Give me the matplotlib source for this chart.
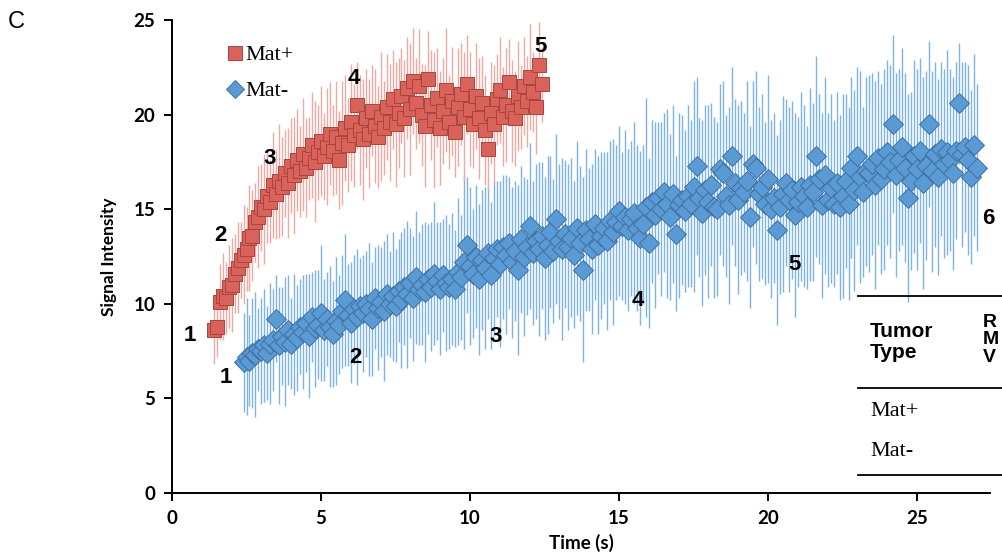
import matplotlib
matplotlib.use("Agg")
import matplotlib.pyplot as plt
from matplotlib.lines import Line2D

# === data ===
# Mat+ (red squares)
mat_plus_t = [
    1.4, 1.5, 1.6, 1.7, 1.8, 1.9, 2.0, 2.1, 2.2, 2.3,
    2.4, 2.5, 2.6, 2.7, 2.8, 2.9, 3.0, 3.1, 3.2, 3.3,
    3.4, 3.5, 3.6, 3.7, 3.8, 3.9, 4.0, 4.1, 4.2, 4.3,
    4.4, 4.5, 4.6, 4.7, 4.8, 4.9, 5.0, 5.1, 5.2, 5.3,
    5.4, 5.5, 5.6, 5.7, 5.8, 5.9, 6.0, 6.1, 6.2, 6.3,
    6.4, 6.5, 6.6, 6.7, 6.8, 6.9, 7.0, 7.1, 7.2, 7.3,
    7.4, 7.5, 7.6, 7.7, 7.8, 7.9, 8.0, 8.1, 8.2, 8.3,
    8.4, 8.5, 8.6, 8.7, 8.8, 8.9, 9.0, 9.1, 9.2, 9.3,
    9.4, 9.5, 9.6, 9.7, 9.8, 9.9, 10.0, 10.1, 10.2, 10.3,
    10.4, 10.5, 10.6, 10.7, 10.8, 10.9, 11.0, 11.1, 11.2, 11.3,
    11.4, 11.5, 11.6, 11.7, 11.8, 11.9, 12.0, 12.1, 12.2, 12.3, 12.4,
]
mat_plus_v = [
    8.6, 8.8, 10.1, 10.4, 10.3, 10.9, 11.0, 11.6, 11.9, 12.3,
    12.6, 12.9, 13.5, 13.6, 14.3, 14.6, 15.1, 15.0, 15.7, 15.4,
    16.3, 15.8, 16.5, 16.2, 16.9, 16.4, 17.3, 16.8, 17.6, 17.0,
    17.9, 17.2, 17.7, 18.4, 17.5, 18.0, 18.6, 17.8, 18.3, 19.0,
    18.1, 18.8, 17.6, 18.5, 19.3, 18.4, 19.6, 18.9, 20.5, 19.2,
    18.7, 19.8, 19.0, 20.2, 19.4, 18.8, 19.9, 19.3, 20.4, 19.6,
    20.8, 19.5, 20.1, 21.0, 19.8, 21.4, 20.3, 21.8, 20.6, 21.5,
    20.0, 19.4, 21.9, 20.5, 19.7, 20.9, 19.3, 20.2, 21.3, 19.6,
    20.7, 19.1, 20.4, 21.1, 19.9, 21.6, 20.3, 19.5, 21.0, 19.8,
    20.6, 19.2, 18.2, 20.1, 19.5, 20.8, 21.3, 19.9, 20.5, 21.7,
    20.2, 19.8, 21.0, 20.4, 21.5, 20.7, 22.0, 21.2, 20.4, 22.6, 21.6,
]
mat_plus_err = [
    1.8, 1.6, 2.0, 2.3, 1.9, 2.2, 2.5, 2.1, 2.4, 2.0,
    2.6, 2.2, 2.8, 2.4, 2.1, 2.7, 2.3, 2.9, 2.5, 2.2,
    2.8, 2.4, 3.0, 2.6, 2.3, 2.9, 2.5, 3.1, 2.7, 2.4,
    3.0, 2.6, 2.2, 2.8, 3.2, 2.5, 2.9, 2.3, 3.1, 2.7,
    2.4, 3.0, 2.6, 3.3, 2.8, 2.5, 3.1, 2.7, 2.3, 2.9,
    3.2, 2.6, 2.9, 2.4, 3.0, 2.7, 3.4, 2.5, 2.8, 3.1,
    2.6, 3.3, 2.9, 2.5, 3.1, 2.7, 3.5, 2.8, 2.4, 3.0,
    2.7, 3.2, 2.5, 2.9, 3.6, 2.6, 3.0, 2.8, 3.3, 2.5,
    2.9, 2.4, 3.1, 2.7, 3.4, 2.6, 3.0, 2.3, 2.8, 3.2,
    2.5, 2.9, 2.2, 2.7, 3.1, 2.4, 2.8, 2.6, 3.0, 2.3,
    2.7, 2.5, 2.9, 2.2, 2.6, 2.4, 2.8, 2.1, 2.5, 2.3, 2.0,
]

# Mat- (blue diamonds)
mat_minus_t = [
    2.4, 2.5, 2.6, 2.7, 2.8, 2.9, 3.0, 3.1, 3.2, 3.3,
    3.4, 3.5, 3.6, 3.7, 3.8, 3.9, 4.0, 4.1, 4.2, 4.3,
    4.4, 4.5, 4.6, 4.7, 4.8, 4.9, 5.0, 5.1, 5.2, 5.3,
    5.4, 5.5, 5.6, 5.7, 5.8, 5.9, 6.0, 6.1, 6.2, 6.3,
    6.4, 6.5, 6.6, 6.7, 6.8, 6.9, 7.0, 7.1, 7.2, 7.3,
    7.4, 7.5, 7.6, 7.7, 7.8, 7.9, 8.0, 8.1, 8.2, 8.3,
    8.4, 8.5, 8.6, 8.7, 8.8, 8.9, 9.0, 9.1, 9.2, 9.3,
    9.4, 9.5, 9.6, 9.7, 9.8, 9.9, 10.0, 10.1, 10.2, 10.3,
    10.4, 10.5, 10.6, 10.7, 10.8, 10.9, 11.0, 11.1, 11.2, 11.3,
    11.4, 11.5, 11.6, 11.7, 11.8, 11.9, 12.0, 12.1, 12.2, 12.3,
    12.4, 12.5, 12.6, 12.7, 12.8, 12.9, 13.0, 13.1, 13.2, 13.3,
    13.4, 13.5, 13.6, 13.7, 13.8, 13.9, 14.0, 14.1, 14.2, 14.3,
    14.4, 14.5, 14.6, 14.7, 14.8, 14.9, 15.0, 15.1, 15.2, 15.3,
    15.4, 15.5, 15.6, 15.7, 15.8, 15.9, 16.0, 16.1, 16.2, 16.3,
    16.4, 16.5, 16.6, 16.7, 16.8, 16.9, 17.0, 17.1, 17.2, 17.3,
    17.4, 17.5, 17.6, 17.7, 17.8, 17.9, 18.0, 18.1, 18.2, 18.3,
    18.4, 18.5, 18.6, 18.7, 18.8, 18.9, 19.0, 19.1, 19.2, 19.3,
    19.4, 19.5, 19.6, 19.7, 19.8, 19.9, 20.0, 20.1, 20.2, 20.3,
    20.4, 20.5, 20.6, 20.7, 20.8, 20.9, 21.0, 21.1, 21.2, 21.3,
    21.4, 21.5, 21.6, 21.7, 21.8, 21.9, 22.0, 22.1, 22.2, 22.3,
    22.4, 22.5, 22.6, 22.7, 22.8, 22.9, 23.0, 23.1, 23.2, 23.3,
    23.4, 23.5, 23.6, 23.7, 23.8, 23.9, 24.0, 24.1, 24.2, 24.3,
    24.4, 24.5, 24.6, 24.7, 24.8, 24.9, 25.0, 25.1, 25.2, 25.3,
    25.4, 25.5, 25.6, 25.7, 25.8, 25.9, 26.0, 26.1, 26.2, 26.3,
    26.4, 26.5, 26.6, 26.7, 26.8, 26.9, 27.0,
]
mat_minus_v = [
    6.9, 7.2, 7.0, 7.4, 7.3, 7.6, 7.5, 7.8, 7.4, 7.9,
    8.1, 9.2, 7.8, 8.3, 8.0, 8.6, 7.9, 8.4, 8.2, 8.8,
    8.5, 9.0, 8.3, 9.3, 8.7, 8.9, 9.5, 8.6, 9.2, 8.8,
    8.4, 9.1, 8.9, 9.6, 10.2, 9.4, 9.0, 9.7, 9.3, 9.9,
    9.5, 10.0, 9.7, 9.2, 10.3, 9.8, 10.1, 9.6, 10.5, 10.0,
    10.4, 9.9, 10.7, 10.2, 10.9, 10.5, 11.1, 10.3, 11.4, 10.8,
    11.0, 10.6, 11.3, 10.9, 11.6, 11.2, 10.8, 11.5, 11.1, 10.9,
    11.3, 10.8, 11.7, 11.4, 12.2, 13.1, 12.0, 11.6, 12.5, 11.3,
    12.3, 11.9, 12.7, 11.5, 12.4, 12.9, 12.1, 13.0, 12.6, 13.2,
    12.2, 12.8, 11.8, 13.4, 12.5, 13.0, 14.1, 12.7, 13.3, 12.9,
    13.6, 12.4, 13.1, 13.8, 12.8, 14.5, 13.3, 12.9, 13.7, 13.0,
    13.5, 12.6, 14.0, 13.2, 11.8, 13.9, 13.4, 12.9, 14.2, 13.1,
    13.6, 14.0, 13.3, 14.4, 13.8, 14.3, 14.9, 14.1, 14.6, 13.9,
    14.5, 14.8, 14.0, 13.5, 14.2, 15.1, 13.2, 15.4, 14.7, 15.6,
    15.0, 15.9, 15.3, 14.6, 15.8, 13.7, 15.2, 15.5, 14.9, 15.7,
    15.3, 16.2, 17.3, 15.6, 14.8, 16.0, 15.4, 16.3, 15.1, 15.0,
    17.1, 16.9, 15.7, 15.2, 17.8, 16.4, 15.5, 16.1, 15.9, 16.5,
    14.6, 17.4, 17.2, 15.8, 16.2, 15.3, 16.6, 15.0, 15.6, 13.9,
    15.1, 15.8, 16.4, 15.5, 16.0, 14.7, 15.4, 16.2, 15.7, 15.1,
    16.3, 15.9, 17.8, 16.6, 15.2, 16.8, 15.5, 16.1, 15.3, 16.4,
    15.1, 15.7, 16.5, 15.3, 17.2, 16.0, 17.8, 16.7, 15.9, 17.0,
    16.9, 17.4, 16.3, 17.7, 16.6, 17.1, 18.0, 17.5, 19.5, 16.8,
    17.6, 18.3, 17.2, 15.6, 16.5, 17.8, 17.1, 18.1, 16.4, 17.3,
    19.5, 17.0, 17.9, 16.7, 18.2, 17.4, 18.0, 17.6, 16.9, 18.1,
    20.6, 17.9, 18.3, 17.6, 16.7, 18.4, 17.2,
]
mat_minus_err = [
    2.6, 3.1, 2.4, 2.9, 3.3, 2.2, 2.8, 3.0, 2.5, 3.2,
    2.7, 2.3, 3.1, 2.6, 3.4, 2.9, 2.4, 3.2, 2.8, 2.5,
    3.0, 2.6, 3.3, 2.4, 3.1, 2.9, 3.6, 2.7, 2.5, 3.2,
    2.8, 3.4, 2.6, 3.0, 3.5, 2.7, 3.2, 2.9, 3.6, 2.5,
    3.1, 2.8, 3.5, 3.0, 2.7, 3.3, 2.9, 3.7, 3.2, 2.8,
    3.4, 3.0, 2.7, 3.6, 3.1, 3.9, 2.9, 3.3, 3.5, 3.0,
    3.2, 3.7, 2.9, 3.4, 3.8, 3.1, 3.5, 3.0, 3.6, 3.3,
    3.5, 3.1, 3.9, 3.3, 4.6, 3.6, 4.2, 3.4, 3.8, 4.0,
    3.7, 4.3, 3.5, 3.9, 4.1, 3.6, 4.4, 3.8, 4.2, 3.5,
    4.0, 3.7, 4.5, 3.9, 4.2, 3.6, 4.4, 3.8, 4.1, 4.6,
    3.9, 4.3, 4.7, 4.0, 3.8, 4.5, 4.1, 4.8, 3.9, 4.4,
    4.2, 3.9, 4.6, 4.1, 4.9, 4.3, 3.8, 4.5, 4.0, 4.7,
    4.4, 4.0, 4.7, 4.2, 4.9, 4.1, 4.5, 3.9, 4.6, 4.3,
    4.1, 4.8, 4.4, 4.6, 4.2, 5.8, 4.5, 4.3, 4.9, 4.0,
    4.6, 4.2, 5.0, 4.4, 4.7, 4.1, 4.9, 4.5, 4.3, 4.8,
    4.4, 5.6, 4.7, 4.2, 4.9, 4.5, 5.1, 4.3, 4.8, 4.6,
    4.5, 4.9, 4.3, 5.2, 4.7, 4.4, 5.0, 4.6, 4.2, 5.3,
    4.8, 4.4, 5.1, 4.6, 4.9, 4.3, 5.5, 4.7, 4.5, 5.0,
    4.6, 5.2, 4.4, 4.9, 4.7, 5.4, 4.5, 5.0, 4.8, 4.3,
    5.1, 4.7, 5.3, 4.5, 4.9, 5.2, 4.6, 5.0, 4.4, 4.8,
    4.9, 5.4, 4.6, 5.1, 4.8, 5.3, 4.7, 5.6, 4.5, 5.0,
    5.2, 4.8, 5.5, 4.6, 5.0, 5.3, 4.9, 5.1, 4.7, 5.4,
    4.8, 5.2, 5.0, 5.5, 4.7, 5.1, 5.3, 4.9, 5.6, 5.0,
    4.4, 5.3, 4.9, 5.2, 4.6, 5.0, 5.4, 4.8, 5.1, 4.7,
    3.2, 4.9, 4.5, 5.0, 4.6, 4.8, 4.4,
]

# numbered time points marked on each curve: (label, time, intensity)
plus_marks = [("1", 0.60, 8.35), ("2", 1.64, 13.6), ("3", 3.29, 17.7),
              ("4", 6.11, 21.9), ("5", 12.35, 23.6)]
minus_marks = [("1", 1.81, 6.1), ("2", 6.14, 7.15), ("3", 10.87, 8.25),
               ("4", 15.64, 10.2), ("5", 20.9, 12.1), ("6", 27.38, 14.5)]

# === figure ===
fig = plt.figure(figsize=(10.03, 5.56), dpi=100)
ax = fig.add_axes([0.1715, 0.1133, 0.8156, 0.8507])

red_face, red_edge, red_bar = "#d9625a", "#a9443c", "#eeaaa4"
blue_face, blue_edge, blue_bar = "#5b9bd5", "#3f6f9e", "#7db3e8"

ax.errorbar(mat_minus_t, mat_minus_v, yerr=mat_minus_err, fmt="none",
            ecolor=blue_bar, elinewidth=1.0, capsize=0, zorder=1)
ax.errorbar(mat_plus_t, mat_plus_v, yerr=mat_plus_err, fmt="none",
            ecolor=red_bar, elinewidth=1.0, capsize=0, zorder=2)
h_minus, = ax.plot(mat_minus_t, mat_minus_v, ls="none", marker="D", ms=10.5,
                   mfc=blue_face, mec=blue_edge, mew=0.7, zorder=3)
h_plus, = ax.plot(mat_plus_t, mat_plus_v, ls="none", marker="s", ms=10.5,
                  mfc=red_face, mec=red_edge, mew=0.7, zorder=4)

for lab, t, v in plus_marks + minus_marks:
    ax.text(t, v, lab, ha="center", va="center", fontsize=16,
            fontweight="bold", family="Liberation Sans", zorder=5)

leg = ax.legend([h_plus, h_minus], ["Mat+", "Mat-"], loc="upper left",
                bbox_to_anchor=(0.043, 0.99), frameon=False,
                handlelength=0.7, handletextpad=0.1, labelspacing=0.7,
                prop={"family": "Liberation Serif", "size": 16})
leg.legend_handles[1].set_markersize(9)

# axes styling
ax.set_xlim(0, 27.45)
ax.set_ylim(0, 25)
ax.set_xticks([0, 5, 10, 15, 20, 25])
ax.set_yticks([0, 5, 10, 15, 20, 25])
for s in ["top", "right"]:
    ax.spines[s].set_visible(False)
for s in ["left", "bottom"]:
    ax.spines[s].set_linewidth(1.4)
ax.tick_params(axis="both", direction="out", length=6, width=1.4, pad=6)
for lab in ax.get_xticklabels() + ax.get_yticklabels():
    lab.set_family("Lato")
    lab.set_fontweight("bold")
    lab.set_fontsize(13.5)
ax.set_xlabel("Time (s)", family="Lato", fontweight="bold", fontsize=13.5, labelpad=5)
ax.set_ylabel("Signal Intensity", family="Lato", fontweight="bold", fontsize=12.5, labelpad=12)

# panel letter
fig.text(0.008, 0.96, "C", fontsize=17, family="Liberation Sans", va="center")

# cropped table at the right edge
for yp in [296, 388, 475]:
    fig.add_artist(Line2D([858 / 1003, 1.0], [1 - yp / 556, 1 - yp / 556],
                          color="black", lw=1.3))
fig.text(870 / 1003, 1 - 342 / 556, "Tumor\nType", fontsize=15, fontweight="bold",
         family="Liberation Sans", va="center", ha="left", linespacing=1.15)
fig.text(983 / 1003, 1 - 340 / 556, "R\nM\nV", fontsize=14, fontweight="bold",
         family="Liberation Sans", va="center", ha="left", linespacing=1.05)
fig.text(870 / 1003, 1 - 412 / 556, "Mat+", fontsize=16,
         family="Liberation Serif", va="center", ha="left")
fig.text(870 / 1003, 1 - 451 / 556, "Mat-", fontsize=16,
         family="Liberation Serif", va="center", ha="left")

fig.savefig("out.png", dpi=100)
